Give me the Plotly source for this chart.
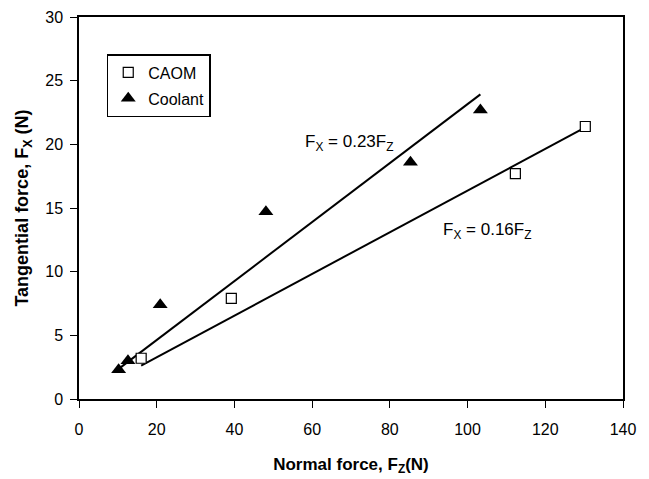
import numpy as np
import plotly.graph_objects as go

# Data
caom_fz = [16.0, 39.2, 112.3, 130.3]
caom_fx = [3.2, 7.9, 17.7, 21.4]
cool_fz = [10.2, 12.6, 20.9, 48.1, 85.3, 103.3]
cool_fx = [2.3, 3.0, 7.4, 14.7, 18.6, 22.7]

x_ticks = [0, 20, 40, 60, 80, 100, 120, 140]
y_ticks = [0, 5, 10, 15, 20, 25, 30]


def fit_through_origin(x, y):
    x = np.asarray(x); y = np.asarray(y)
    k = float((x * y).sum() / (x * x).sum())
    xs = np.array([x.min(), x.max()])
    return xs, k * xs


font = "Liberation Sans, Arial, sans-serif"
fig = go.Figure()

cx, cy = fit_through_origin(cool_fz, cool_fx)
fig.add_trace(go.Scatter(x=cx, y=cy, mode="lines", line=dict(color="black", width=2),
                         showlegend=False, hoverinfo="skip"))
ax, ay = fit_through_origin(caom_fz, caom_fx)
fig.add_trace(go.Scatter(x=ax, y=ay, mode="lines", line=dict(color="black", width=2),
                         showlegend=False, hoverinfo="skip"))

fig.add_trace(go.Scatter(x=caom_fz, y=caom_fx, mode="markers", name="CAOM",
                         legendgroup="a",
                         marker=dict(symbol="square", size=10, color="white",
                                     line=dict(color="black", width=1.2))))
fig.add_trace(go.Scatter(x=cool_fz, y=cool_fx, mode="markers", name="Coolant",
                         legendgroup="b",
                         marker=dict(symbol="triangle-up", size=13, color="black",
                                     line=dict(color="black", width=0))))

fig.add_annotation(x=57.6, y=20.1, xanchor="left", yanchor="middle", showarrow=False,
                   text="F<sub>X</sub> = 0.23F<sub>Z</sub>",
                   font=dict(family=font, size=17, color="black"))
fig.add_annotation(x=93.1, y=13.2, xanchor="left", yanchor="middle", showarrow=False,
                   text="F<sub>X</sub> = 0.16F<sub>Z</sub>",
                   font=dict(family=font, size=17, color="black"))

fig.update_layout(
    width=649, height=479,
    margin=dict(l=79, r=26, t=17, b=80),
    paper_bgcolor="white", plot_bgcolor="white",
    font=dict(family=font, size=16, color="black"),
    legend=dict(x=0.051, y=0.903, xanchor="left", yanchor="top",
                bordercolor="black", borderwidth=1.5, bgcolor="white",
                font=dict(family=font, size=16, color="black"),
                itemwidth=30, traceorder="grouped", tracegroupgap=2),
    xaxis=dict(range=[0, 140], tickvals=x_ticks, ticks="outside", ticklen=7,
               tickcolor="black", showline=True, linecolor="black", linewidth=1.5,
               mirror=True, showgrid=False, zeroline=False, ticklabelstandoff=8,
               tickfont=dict(family=font, size=16), automargin=False,
               title=dict(text="<b>Normal force, F<sub>Z</sub>(N)</b>",
                          font=dict(family=font, size=17), standoff=21)),
    yaxis=dict(range=[0, 30], tickvals=y_ticks, ticks="outside", ticklen=7,
               tickcolor="black", showline=True, linecolor="black", linewidth=1.5,
               mirror=True, showgrid=False, zeroline=False, ticklabelstandoff=4,
               tickfont=dict(family=font, size=16), automargin=False,
               title=dict(text="<b>Tangential force, F<sub>X</sub> (N)</b>",
                          font=dict(family=font, size=18), standoff=12)),
)

fig.write_html("out.html")
